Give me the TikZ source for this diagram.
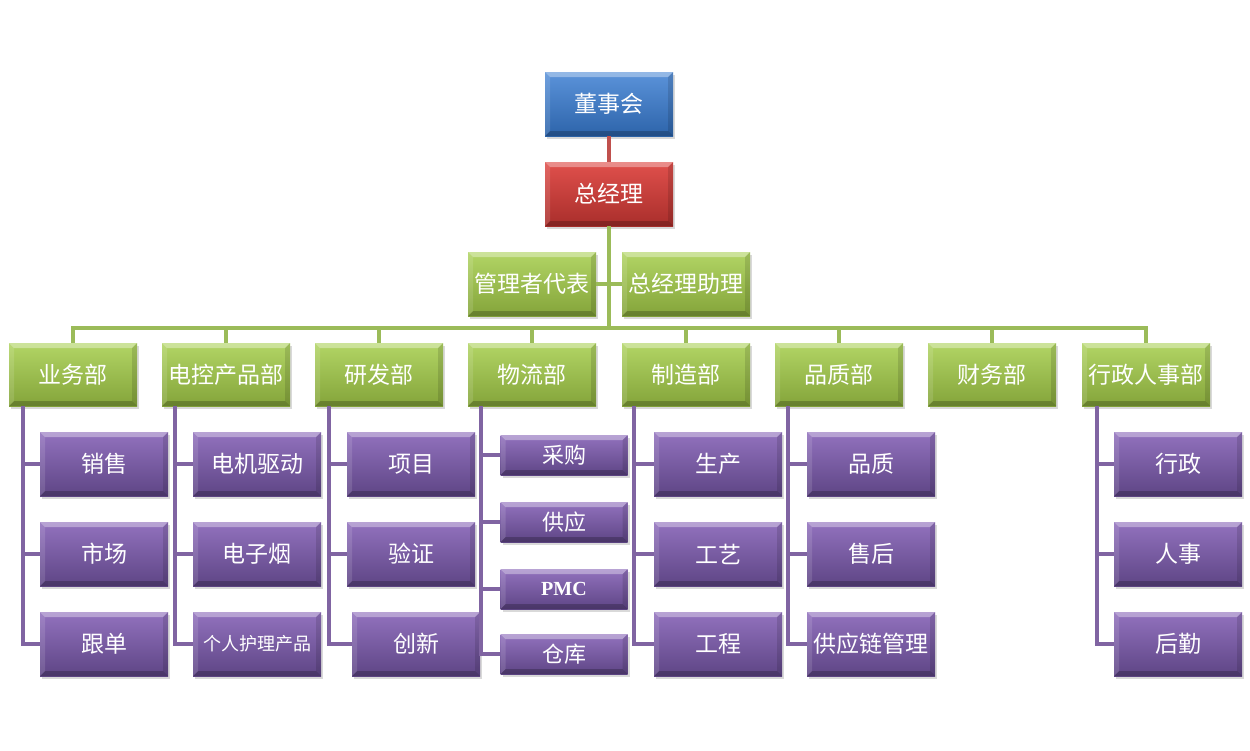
\documentclass[tikz,border=0pt]{standalone}
\usepackage{fontspec}
\newfontfamily\cjk{Noto Sans CJK SC}
\newfontfamily\pmcfont{Liberation Serif}
\usetikzlibrary{shadows}
\definecolor{boardtop}{HTML}{5B93DA}
\definecolor{boardbot}{HTML}{2D64AA}
\definecolor{gmtop}{HTML}{E0504C}
\definecolor{gmbot}{HTML}{A92E2B}
\definecolor{depttop}{HTML}{B2D565}
\definecolor{deptbot}{HTML}{84A43A}
\definecolor{unittop}{HTML}{9272BE}
\definecolor{unitbot}{HTML}{5E4585}
\definecolor{redline}{HTML}{C0504D}
\definecolor{greenline}{HTML}{9BBB59}
\definecolor{purpleline}{HTML}{8064A2}
\tikzset{bevel/.style={path picture={
    \fill[white,opacity=.35] (path picture bounding box.north west) -- (path picture bounding box.north east)
        -- ([xshift=-5pt,yshift=-5pt]path picture bounding box.north east) -- ([xshift=5pt,yshift=-5pt]path picture bounding box.north west) -- cycle;
    \fill[black,opacity=.22] (path picture bounding box.south west) -- (path picture bounding box.south east)
        -- ([xshift=-5pt,yshift=5pt]path picture bounding box.south east) -- ([xshift=5pt,yshift=5pt]path picture bounding box.south west) -- cycle;
    \fill[black,opacity=.12] (path picture bounding box.north east) -- (path picture bounding box.south east)
        -- ([xshift=-5pt,yshift=5pt]path picture bounding box.south east) -- ([xshift=-5pt,yshift=-5pt]path picture bounding box.north east) -- cycle;
    \fill[white,opacity=.12] (path picture bounding box.north west) -- (path picture bounding box.south west)
        -- ([xshift=5pt,yshift=5pt]path picture bounding box.south west) -- ([xshift=5pt,yshift=-5pt]path picture bounding box.north west) -- cycle;
}}}
\begin{document}
\begin{tikzpicture}[x=1pt,y=-1pt]
    \tikzstyle{box}=[rectangle, minimum width=128pt, minimum height=64pt, inner sep=0pt, text=white,
        font=\cjk\fontsize{23}{23}\selectfont, bevel,
        drop shadow={opacity=.3, shadow xshift=2pt, shadow yshift=-3pt}]
    \tikzstyle{boardbox}=[box, top color=boardtop, bottom color=boardbot]
    \tikzstyle{gmbox}=[box, top color=gmtop, bottom color=gmbot]
    \tikzstyle{deptbox}=[box, top color=depttop, bottom color=deptbot]
    \tikzstyle{unitbox}=[box, top color=unittop, bottom color=unitbot]
    \tikzstyle{smallunit}=[unitbox, minimum width=127pt, minimum height=40pt]
    \tikzstyle{redlink}=[redline, line width=3.5pt]
    \tikzstyle{greenlink}=[greenline, line width=3.5pt]
    \tikzstyle{purplelink}=[purpleline, line width=3.5pt]
    \useasboundingbox (0,0) rectangle (1250,750);
    \node [boardbox] (board) at (609,104) {董事会};
    \node [gmbox] (gm) at (609,194) {总经理};
    \coordinate (hub) at (609,328);
    \draw [redlink] (board) -- (gm);
    \draw [greenlink] (gm) -- (hub);
    \node [deptbox] (rep) at (532,284) {管理者代表};
    \node [deptbox] (asst) at (686,284) {总经理助理};
    \draw [greenlink] (rep) -- (asst);
    \node [deptbox, minimum height=63pt] (sales) at (73,374.5) {业务部};
    \node [deptbox, minimum height=63pt] (ectrl) at (226,374.5) {电控产品部};
    \node [deptbox, minimum height=63pt] (rnd) at (379,374.5) {研发部};
    \node [deptbox, minimum height=63pt] (logi) at (532,374.5) {物流部};
    \node [deptbox, minimum height=63pt] (mfg) at (686,374.5) {制造部};
    \node [deptbox, minimum height=63pt] (qual) at (839,374.5) {品质部};
    \node [deptbox, minimum height=63pt] (fin) at (992,374.5) {财务部};
    \node [deptbox, minimum height=63pt] (admin) at (1146,374.5) {行政人事部};
    \draw [greenlink] (sales.north) |- (hub) -| (admin.north);
    \draw [greenlink] (ectrl.north) -- (ectrl.north |- hub);
    \draw [greenlink] (rnd.north) -- (rnd.north |- hub);
    \draw [greenlink] (logi.north) -- (logi.north |- hub);
    \draw [greenlink] (mfg.north) -- (mfg.north |- hub);
    \draw [greenlink] (qual.north) -- (qual.north |- hub);
    \draw [greenlink] (fin.north) -- (fin.north |- hub);
    \node [unitbox] (sell) at (104,464) {销售};
    \node [unitbox] (market) at (104,554) {市场};
    \node [unitbox] (follow) at (104,644) {跟单};
    \node [unitbox] (motor) at (257,464) {电机驱动};
    \node [unitbox] (ecig) at (257,554) {电子烟};
    \node [unitbox, font=\cjk\fontsize{18}{18}\selectfont] (care) at (257,644) {个人护理产品};
    \node [unitbox] (proj) at (411,464) {项目};
    \node [unitbox] (verify) at (411,554) {验证};
    \node [unitbox] (innov) at (416,644) {创新};
    \node [smallunit, font=\cjk\fontsize{22}{22}\selectfont] (buy) at (564,455) {采购};
    \node [smallunit, font=\cjk\fontsize{22}{22}\selectfont] (supply) at (564,522) {供应};
    \node [smallunit, font=\pmcfont\bfseries\fontsize{20}{20}\selectfont] (pmc) at (564,589) {PMC};
    \node [smallunit, font=\cjk\fontsize{22}{22}\selectfont] (store) at (564,654) {仓库};
    \node [unitbox] (prod) at (718,464) {生产};
    \node [unitbox] (craft) at (718,554) {工艺};
    \node [unitbox] (engr) at (718,644) {工程};
    \node [unitbox] (qc) at (871,464) {品质};
    \node [unitbox] (after) at (871,554) {售后};
    \node [unitbox] (scm) at (871,644) {供应链管理};
    \node [unitbox] (adm) at (1178,464) {行政};
    \node [unitbox] (hr) at (1178,554) {人事};
    \node [unitbox] (logist) at (1178,644) {后勤};
    \coordinate (s1) at (23,406);
    \coordinate (s2) at (175,406);
    \coordinate (s3) at (329,406);
    \coordinate (s4) at (481,406);
    \coordinate (s5) at (634,406);
    \coordinate (s6) at (788,406);
    \coordinate (s8) at (1097,406);
    \draw [purplelink] (s1) |- (follow.west);
    \draw [purplelink] (s1 |- sell) -- (sell.west);
    \draw [purplelink] (s1 |- market) -- (market.west);
    \draw [purplelink] (s2) |- (care.west);
    \draw [purplelink] (s2 |- motor) -- (motor.west);
    \draw [purplelink] (s2 |- ecig) -- (ecig.west);
    \draw [purplelink] (s3) |- (innov.west);
    \draw [purplelink] (s3 |- proj) -- (proj.west);
    \draw [purplelink] (s3 |- verify) -- (verify.west);
    \draw [purplelink] (s4) |- (store.west);
    \draw [purplelink] (s4 |- buy) -- (buy.west);
    \draw [purplelink] (s4 |- supply) -- (supply.west);
    \draw [purplelink] (s4 |- pmc) -- (pmc.west);
    \draw [purplelink] (s5) |- (engr.west);
    \draw [purplelink] (s5 |- prod) -- (prod.west);
    \draw [purplelink] (s5 |- craft) -- (craft.west);
    \draw [purplelink] (s6) |- (scm.west);
    \draw [purplelink] (s6 |- qc) -- (qc.west);
    \draw [purplelink] (s6 |- after) -- (after.west);
    \draw [purplelink] (s8) |- (logist.west);
    \draw [purplelink] (s8 |- adm) -- (adm.west);
    \draw [purplelink] (s8 |- hr) -- (hr.west);
\end{tikzpicture}
\end{document}
